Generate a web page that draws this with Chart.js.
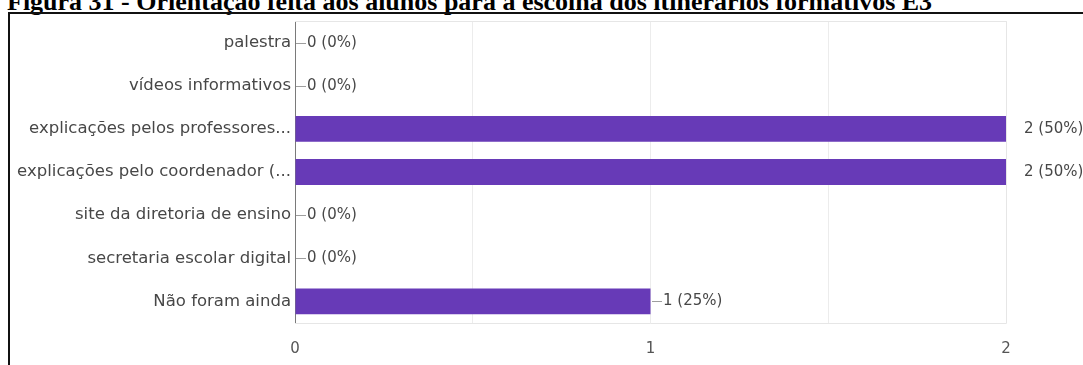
<!DOCTYPE html>
<html>
<head>
<meta charset="utf-8">
<script src="https://cdn.jsdelivr.net/npm/chart.js@4/dist/chart.umd.min.js"></script>
<style>
  html, body { margin: 0; padding: 0; background: #fff; }
  body { width: 1083px; height: 365px; position: relative; overflow: hidden; }
  #caption {
    position: absolute; left: 7px; top: -11px; white-space: nowrap;
    font-family: "Liberation Serif", "Times New Roman", serif;
    font-weight: bold; font-size: 26px; line-height: 26px; color: #000;
  }
  #frame {
    position: absolute; left: 8px; top: 12px; width: 1200px; height: 600px;
    border: 2px solid #111; box-sizing: border-box;
  }
  #chart { position: absolute; left: 0; top: 0; }
</style>
</head>
<body>
<div id="caption">Figura 31 - Orientação feita aos alunos para a escolha dos itinerários formativos E3</div>
<div id="frame"></div>
<canvas id="chart" width="1083" height="365"></canvas>
<script>
// Answer options and how many students picked each one
const categories = [
  'palestra',
  'vídeos informativos',
  'explicações pelos professores...',
  'explicações pelo coordenador (...',
  'site da diretoria de ensino',
  'secretaria escolar digital',
  'Não foram ainda'
];
const counts = [0, 0, 2, 2, 0, 0, 1];
const respondents = 4;
const xTicks = [0, 1, 2];

const labelFont = '"DejaVu Sans", sans-serif';

// Light frame around the plot area (top, right, bottom)
const plotFrame = {
  id: 'plotFrame',
  beforeDatasetsDraw(chart) {
    const { ctx, chartArea: a } = chart;
    ctx.save();
    ctx.strokeStyle = '#e6e6e6';
    ctx.lineWidth = 1;
    ctx.beginPath();
    ctx.moveTo(a.left, a.top + 0.5);
    ctx.lineTo(a.right + 0.5, a.top + 0.5);
    ctx.lineTo(a.right + 0.5, a.bottom + 0.5);
    ctx.lineTo(a.left, a.bottom + 0.5);
    ctx.stroke();
    ctx.restore();
  }
};

// "n (p%)" next to each bar, with a short leader line
const valueLabels = {
  id: 'valueLabels',
  afterDatasetsDraw(chart) {
    const { ctx, chartArea: a } = chart;
    const meta = chart.getDatasetMeta(0);
    ctx.save();
    ctx.font = '15px ' + labelFont;
    ctx.textBaseline = 'middle';
    meta.data.forEach((bar, i) => {
      const v = counts[i];
      const pct = Math.round(v / respondents * 100);
      const x = Math.round(bar.x);
      const y = Math.round(bar.y) + 0.5;
      let tx;
      if (x >= a.right - 1) {
        tx = x + 18;
      } else {
        ctx.strokeStyle = '#9e9e9e';
        ctx.lineWidth = 1;
        ctx.beginPath();
        ctx.moveTo(x + 1, y);
        ctx.lineTo(x + 11, y);
        ctx.stroke();
        tx = x + 12;
      }
      ctx.fillStyle = '#474747';
      ctx.fillText(v + ' (' + pct + '%)', tx, y);
    });
    ctx.restore();
  }
};

new Chart(document.getElementById('chart'), {
  type: 'bar',
  data: {
    labels: categories,
    datasets: [{
      data: counts,
      backgroundColor: '#673ab7',
      borderWidth: 0,
      barPercentage: 0.6,
      categoryPercentage: 1
    }]
  },
  options: {
    indexAxis: 'y',
    responsive: false,
    animation: false,
    devicePixelRatio: 1,
    layout: { padding: { top: 21, right: 77, bottom: 0, left: 0 } },
    plugins: { legend: { display: false }, tooltip: { enabled: false } },
    scales: {
      y: {
        afterFit(s) { s.width = 295; },
        grid: { display: false, drawTicks: false },
        border: { display: true, color: '#7a7a7a', width: 1 },
        ticks: { padding: 4, color: '#474747', font: { family: labelFont, size: 16.5 } }
      },
      x: {
        min: 0,
        max: xTicks[xTicks.length - 1],
        afterFit(s) { s.height = 42; },
        grid: { color: '#ececec', drawTicks: false },
        border: { display: false },
        ticks: {
          stepSize: 0.5,
          padding: 17,
          color: '#555',
          font: { family: labelFont, size: 15 },
          callback: v => xTicks.includes(v) ? String(v) : ''
        }
      }
    }
  },
  plugins: [plotFrame, valueLabels]
});
</script>
</body>
</html>
